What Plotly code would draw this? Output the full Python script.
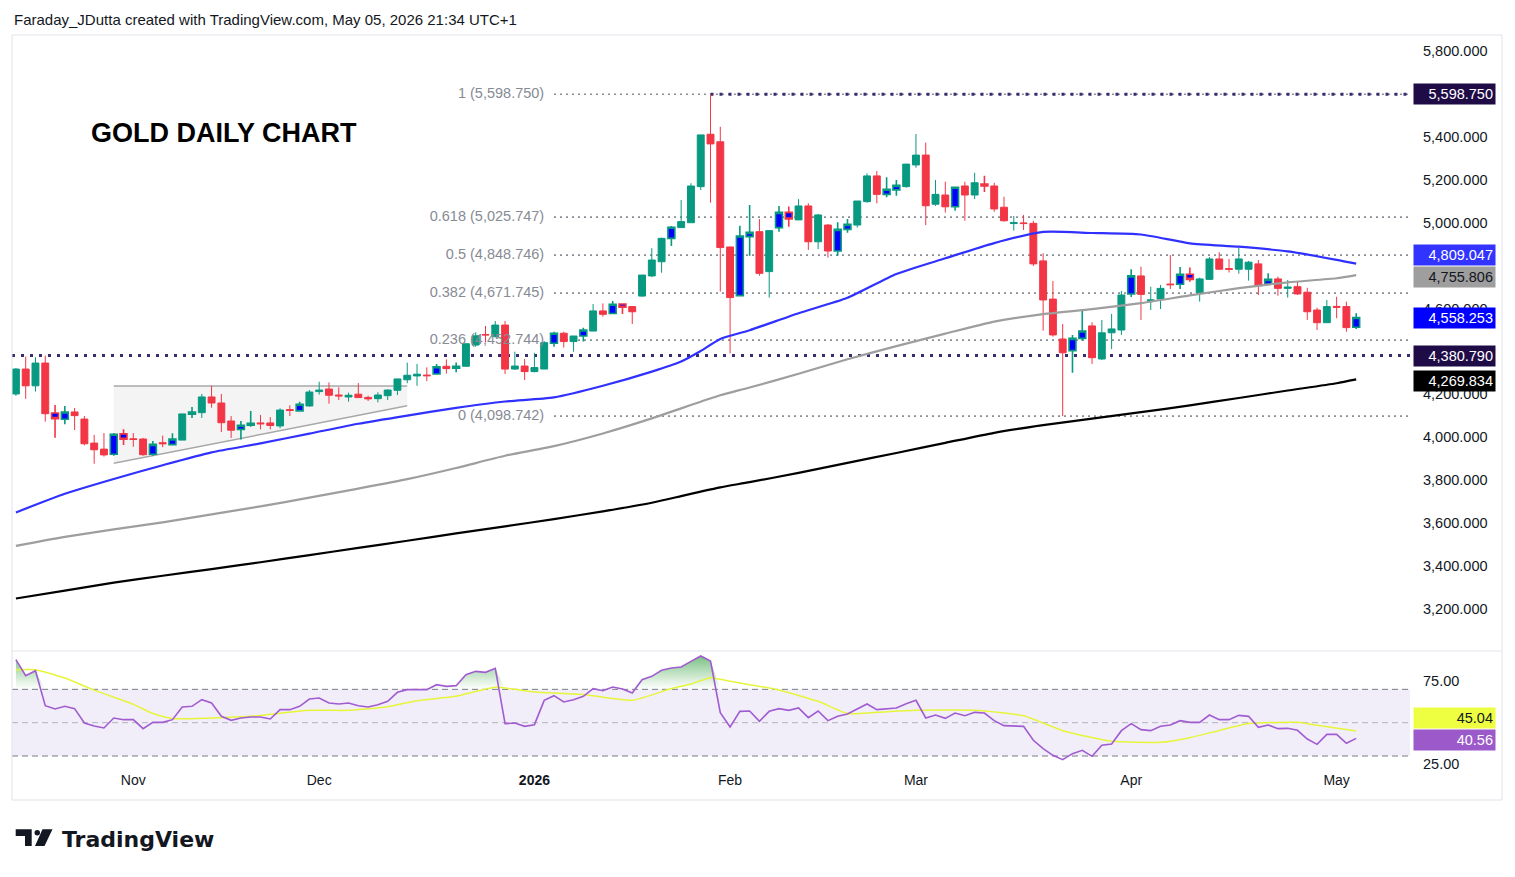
import numpy as np
import pandas as pd
import plotly.graph_objects as go

# ---- values (gold futures, daily) ----
# trading days: weekdays minus the exchange holidays in the window
holidays = ["2025-11-27", "2025-12-25", "2026-01-01", "2026-01-19", "2026-02-16", "2026-04-03"]
dates = [d for d in pd.bdate_range("2025-10-16", "2026-05-05")
         if d.strftime("%Y-%m-%d") not in holidays]

opens = [4202, 4318, 4240, 4346, 4113, 4084, 4118, 4085, 3973, 3945,
         3921, 4016, 3993, 3992, 3921, 3975, 3966, 3987, 4108, 4115,
         4188, 4160, 4076, 4037, 4056, 4067, 4067, 4053, 4129, 4123,
         4146, 4213, 4225, 4197, 4188, 4201, 4186, 4180, 4194, 4219,
         4268, 4286, 4290, 4295, 4331, 4322, 4331, 4430, 4479, 4469,
         4523, 4318, 4332, 4306, 4318, 4438, 4485, 4446, 4472, 4495,
         4589, 4577, 4621, 4609, 4658, 4752, 4818, 4927, 4977, 5000,
         5168, 5412, 5377, 4887, 4660, 4935, 4958, 4772, 4977, 5048,
         5013, 5078, 4911, 4989, 4868, 4969, 4989, 5098, 5218, 5132,
         5153, 5168, 5269, 5315, 5086, 5129, 5074, 5171, 5129, 5180,
         5171, 5072, 4996, 4999, 4997, 4822, 4644, 4458, 4404, 4461,
         4519, 4365, 4487, 4500, 4668, 4752, 4636, 4644, 4714, 4713,
         4760, 4674, 4736, 4831, 4786, 4783, 4783, 4808, 4713, 4738,
         4694, 4702, 4676, 4593, 4534, 4610, 4609, 4513]
highs = [4323, 4376, 4373, 4381, 4151, 4146, 4137, 4099, 4011, 4020,
         4020, 4037, 4020, 3997, 3983, 4008, 4019, 4109, 4141, 4202,
         4240, 4202, 4099, 4076, 4123, 4104, 4094, 4135, 4149, 4166,
         4220, 4259, 4256, 4233, 4208, 4253, 4194, 4210, 4224, 4272,
         4348, 4342, 4326, 4342, 4363, 4348, 4436, 4489, 4519, 4542,
         4542, 4399, 4365, 4394, 4449, 4492, 4492, 4472, 4511, 4621,
         4624, 4635, 4624, 4612, 4756, 4881, 4930, 4985, 5106, 5184,
         5409, 5598.75, 5447, 4887, 4986, 5082, 5017, 4966, 5078, 5075,
         5110, 5090, 5041, 4994, 5002, 5017, 5101, 5230, 5241, 5212,
         5199, 5273, 5413, 5373, 5199, 5191, 5165, 5191, 5233, 5219,
         5186, 5121, 5031, 5036, 5009, 4857, 4728, 4528, 4477, 4593,
         4536, 4547, 4575, 4682, 4783, 4795, 4702, 4710, 4849, 4794,
         4791, 4744, 4840, 4862, 4831, 4884, 4822, 4826, 4764, 4749,
         4733, 4725, 4697, 4604, 4640, 4655, 4632, 4578]
lows = [4193, 4179, 4213, 4073, 3998, 4061, 4034, 3963, 3877, 3910,
        3914, 3964, 3956, 3914, 3914, 3954, 3966, 3987, 4090, 4090,
        4138, 4025, 3997, 3990, 4049, 4037, 4037, 4042, 4099, 4120,
        4143, 4199, 4157, 4174, 4166, 4185, 4169, 4163, 4174, 4197,
        4252, 4240, 4262, 4292, 4297, 4303, 4329, 4422, 4443, 4466,
        4295, 4314, 4267, 4303, 4318, 4422, 4418, 4399, 4446, 4495,
        4562, 4577, 4575, 4528, 4655, 4746, 4767, 4891, 4977, 5000,
        5152, 5093, 4679, 4391, 4660, 4846, 4753, 4651, 4958, 4981,
        5013, 4873, 4877, 4837, 4846, 4953, 4977, 5093, 5090, 5118,
        5126, 5163, 5256, 4989, 5078, 5047, 5056, 5009, 5110, 5143,
        5051, 5005, 4963, 4966, 4798, 4497, 4469, 4098.742, 4301, 4450,
        4342, 4360, 4411, 4477, 4654, 4547, 4593, 4598, 4691, 4691,
        4725, 4632, 4733, 4783, 4768, 4762, 4730, 4663, 4710, 4660,
        4651, 4663, 4547, 4500, 4534, 4555, 4492, 4505]
closes = [4318, 4240, 4346, 4110, 4087, 4118, 4101, 3970, 3942, 3918,
          4014, 3991, 3990, 3919, 3967, 3970, 3992, 4109, 4118, 4188,
          4160, 4068, 4033, 4056, 4065, 4063, 4055, 4127, 4125, 4154,
          4211, 4220, 4196, 4193, 4196, 4185, 4179, 4197, 4220, 4272,
          4289, 4294, 4287, 4329, 4320, 4331, 4436, 4473, 4477, 4523,
          4318, 4332, 4306, 4325, 4441, 4485, 4446, 4472, 4500, 4589,
          4573, 4620, 4606, 4585, 4756, 4826, 4927, 4979, 5005, 5171,
          5409, 5367, 4884, 4651, 4938, 4955, 4764, 4963, 5048, 5017,
          5078, 4911, 5036, 4868, 4969, 4992, 5101, 5218, 5132, 5156,
          5174, 5273, 5315, 5079, 5132, 5074, 5165, 5129, 5186, 5171,
          5064, 5009, 5000, 4996, 4808, 4640, 4477, 4394, 4461, 4495,
          4371, 4487, 4505, 4663, 4752, 4666, 4640, 4694, 4711, 4760,
          4736, 4738, 4831, 4783, 4783, 4831, 4816, 4706, 4736, 4694,
          4700, 4668, 4585, 4534, 4609, 4606, 4511, 4558.253]

# bars painted blue by the chart's bar-colour condition
blue_bars = [4, 5, 10, 11, 14, 16, 18, 23, 24, 29, 43, 45, 55, 58, 61, 62, 67,
             74, 75, 78, 79, 84, 85, 89, 90, 96, 99, 108, 109, 114, 119, 120, 128, 137]

# moving averages, read every few bars
ma_bars = [0, 5, 10, 15, 20, 25, 30, 35, 40, 45, 50, 55, 60, 65, 68, 70, 72, 75,
           80, 85, 90, 95, 100, 105, 110, 115, 120, 125, 130, 135, 137]
sma50 = [3650, 3737, 3806, 3870, 3930, 3972, 4017, 4063, 4101, 4137, 4167, 4186,
         4240, 4306, 4353, 4402, 4458, 4499, 4578, 4650, 4761, 4834, 4905, 4957,
         4952, 4945, 4904, 4888, 4866, 4827, 4809.047]
sma100 = [3494, 3536, 3571, 3604, 3641, 3678, 3719, 3761, 3805, 3857, 3914, 3959,
          4018, 4088, 4135, 4166, 4196, 4232, 4296, 4364, 4425, 4483, 4539, 4574,
          4597, 4625, 4661, 4695, 4722, 4741, 4755.806]
sma200 = [3249, 3286, 3323, 3355, 3386, 3418, 3451, 3485, 3518, 3552, 3585, 3619,
          3655, 3695, 3726, 3747, 3767, 3791, 3834, 3881, 3927, 3974, 4021, 4057,
          4087, 4117, 4149, 4183, 4218, 4252, 4269.834]

rsi = [87.8, 78.2, 81.2, 60.2, 58.2, 59.8, 58.4, 49.8, 48.0, 46.8,
       52.8, 51.8, 51.8, 46.4, 50.2, 50.2, 51.8, 59.4, 59.8, 63.8,
       61.8, 53.8, 51.4, 52.8, 53.4, 53.4, 52.2, 57.8, 57.8, 59.8,
       64.2, 64.8, 61.8, 61.2, 61.8, 60.2, 59.4, 60.8, 62.8, 68.2,
       69.8, 69.6, 69.8, 72.8, 71.8, 72.2, 78.8, 80.8, 80.2, 82.6,
       49.4, 49.8, 47.8, 48.8, 63.4, 66.2, 62.4, 63.8, 65.8, 70.4,
       69.2, 71.4, 70.2, 67.8, 75.8, 77.8, 81.4, 82.8, 83.4, 86.8,
       90.0, 87.0, 56.0, 47.4, 56.8, 57.0, 50.8, 56.8, 58.4, 57.4,
       58.8, 53.0, 57.0, 51.2, 53.8, 55.2, 58.2, 61.2, 57.8, 58.4,
       58.8, 61.4, 63.4, 52.8, 54.6, 52.6, 55.8, 54.2, 56.2, 55.8,
       51.2, 48.2, 47.9, 47.8, 39.4, 34.4, 30.4, 27.8, 31.4, 33.4,
       29.8, 36.4, 37.2, 45.2, 49.4, 45.8, 45.2, 47.8, 48.6, 51.2,
       50.2, 50.2, 54.6, 51.8, 51.8, 54.4, 53.8, 47.2, 48.6, 46.4,
       46.6, 45.4, 40.2, 37.0, 43.0, 43.0, 37.6, 40.56]
rsi_ma_bars = [0, 2, 5, 8, 12, 14, 16, 20, 24, 30, 34, 38, 41, 45, 49, 53, 58, 63, 67, 69,
               71, 73, 75, 78, 82, 85, 88, 92, 98, 103, 107, 112, 117, 120, 123, 126, 131, 133, 137]
rsi_ma = [81.8, 81.8, 76.8, 69.5, 61.0, 55.5, 52.4, 52.8, 53.8, 57.4, 57.4, 59.6, 63.2,
          65.8, 71.2, 68.4, 66.9, 63.4, 70.5, 73.2, 77.0, 74.8, 72.8, 69.6, 62.8, 55.5,
          56.2, 57.4, 57.4, 54.2, 45.2, 38.8, 38.2, 41.0, 45.3, 49.5, 50.2, 48.4, 45.04]

# drawings on the chart
fib_high, fib_low = 5598.75, 4098.742
fib_levels = [0, 0.236, 0.382, 0.5, 0.618, 1]
fib_start = 55          # bar where the retracement tool is anchored
high_bar = 71           # bar of the 5,598.75 top
support = 4380.79
wedge_bars = [10, 40]
wedge_top = 4239
wedge_bottom = [3879, 4147]

UP, DOWN, BLUE = "#089981", "#f23645", "#0000ff"
TXT = "#131722"
FONT = "Liberation Sans"

# ---- page geometry, in screenshot pixels (page body adds an 8px margin) ----
PAGE = 8
W, H = 1515 - PAGE, 877 - PAGE
ML, MR, MT, MB = 12 - PAGE, 105, 35 - PAGE, 107
PW, PH = W - ML - MR, H - MT - MB


def fx(px):
    return (px - 12) / PW


def fy(py):
    return (770 - py) / PH


bars = list(range(len(dates)))
x_range = [-0.4, 142.5]

fig = go.Figure()

# fib labels sit under the candles, like on the original
fib_prices = [fib_low + lv * (fib_high - fib_low) for lv in fib_levels]
fig.add_trace(go.Scatter(
    x=[fib_start - 1] * len(fib_levels), y=fib_prices, mode="text",
    text=[f"{lv:g} ({p:,.3f})" for lv, p in zip(fib_levels, fib_prices)],
    textposition="middle left", textfont=dict(family=FONT, size=14.5, color="#878b94"),
    hoverinfo="skip", showlegend=False))

for vals, col in [(sma200, "#000000"), (sma100, "#9e9e9e"), (sma50, "#3030ff")]:
    fig.add_trace(go.Scatter(x=ma_bars, y=vals, mode="lines",
                             line=dict(color=col, width=2.2, shape="spline", smoothing=0.6),
                             hoverinfo="skip", showlegend=False))

# candles: normal ones, then the blue highlighted ones
df = pd.DataFrame(dict(o=opens, h=highs, l=lows, c=closes))
is_blue = df.index.isin(blue_bars)
for mask, fill_up, fill_dn, lw in [(~is_blue, UP, DOWN, 1), (is_blue, BLUE, BLUE, 1.6)]:
    sub = df[mask]
    fig.add_trace(go.Candlestick(
        x=sub.index, open=sub.o, high=sub.h, low=sub.l, close=sub.c,
        increasing=dict(fillcolor=fill_up, line=dict(color=UP, width=lw)),
        decreasing=dict(fillcolor=fill_dn, line=dict(color=DOWN, width=lw)),
        whiskerwidth=0, hoverinfo="skip", showlegend=False))

# ---- RSI pane ----
fig.add_trace(go.Scatter(x=bars, y=[70] * len(bars), mode="lines", line=dict(width=0),
                         xaxis="x2", yaxis="y2", hoverinfo="skip", showlegend=False))
fig.add_trace(go.Scatter(
    x=bars, y=np.maximum(rsi, 70), mode="lines", line=dict(width=0), fill="tonexty",
    fillgradient=dict(type="vertical", start=70, stop=92,
                      colorscale=[[0, "rgba(76,175,80,0)"], [1, "rgba(56,160,70,0.75)"]]),
    xaxis="x2", yaxis="y2", hoverinfo="skip", showlegend=False))
fig.add_trace(go.Scatter(x=rsi_ma_bars, y=rsi_ma, mode="lines",
                         line=dict(color="#e6f53a", width=1.5, shape="spline", smoothing=0.5),
                         xaxis="x2", yaxis="y2", hoverinfo="skip", showlegend=False))
fig.add_trace(go.Scatter(x=bars, y=rsi, mode="lines", line=dict(color="#a05cd0", width=1.6),
                         xaxis="x2", yaxis="y2", hoverinfo="skip", showlegend=False))

shapes = []
# frame and pane separator
shapes.append(dict(type="rect", xref="paper", yref="paper", x0=0, x1=fx(1502), y0=fy(800), y1=1,
                   line=dict(color="#e0e3eb", width=1)))
shapes.append(dict(type="line", xref="paper", yref="paper", x0=0, x1=fx(1502), y0=fy(651), y1=fy(651),
                   line=dict(color="#e0e3eb", width=1)))
# RSI band and levels
shapes.append(dict(type="rect", xref="paper", yref="y2", x0=0, x1=1, y0=30, y1=70, layer="below",
                   fillcolor="rgba(126,87,194,0.1)", line=dict(width=0)))
for lv, col in [(70, "#787b86"), (50, "rgba(120,123,134,0.5)"), (30, "#787b86")]:
    shapes.append(dict(type="line", xref="paper", yref="y2", x0=0, x1=1, y0=lv, y1=lv, layer="below",
                       line=dict(color=col, width=1, dash="6px,4px")))
# fib lines
for p in fib_prices:
    shapes.append(dict(type="line", xref="x", yref="y", x0=fib_start, x1=x_range[1], y0=p, y1=p,
                       layer="below", line=dict(color="#8a8d96", width=1.6, dash="2px,4px")))
# horizontal levels
shapes.append(dict(type="line", xref="paper", yref="y", x0=0, x1=1, y0=support, y1=support,
                   layer="below", line=dict(color="#3b2a6e", width=3, dash="3px,6px")))
shapes.append(dict(type="line", xref="x", yref="y", x0=high_bar, x1=x_range[1], y0=fib_high, y1=fib_high,
                   layer="below", line=dict(color="#3b2a6e", width=3, dash="3px,6px")))
# wedge drawing
x0w, x1w = wedge_bars
shapes.append(dict(type="path", xref="x", yref="y", layer="below",
                   path=f"M {x0w},{wedge_top} L {x1w},{wedge_top} L {x1w},{wedge_bottom[1]} "
                        f"L {x0w},{wedge_bottom[0]} Z",
                   fillcolor="rgba(0,0,0,0.045)", line=dict(width=0)))
shapes.append(dict(type="line", xref="x", yref="y", x0=x0w, x1=x1w, y0=wedge_top, y1=wedge_top,
                   layer="below", line=dict(color="#a8a8a8", width=1.5)))
shapes.append(dict(type="line", xref="x", yref="y", x0=x0w, x1=x1w, y0=wedge_bottom[0], y1=wedge_bottom[1],
                   layer="below", line=dict(color="#a8a8a8", width=1.5)))
# TradingView logo mark
shapes.append(dict(type="path", xref="paper", yref="paper", fillcolor=TXT, line=dict(width=0),
                   path=f"M {fx(15.7)},{fy(829.3)} L {fx(31.7)},{fy(829.3)} L {fx(31.7)},{fy(846)} "
                        f"L {fx(25)},{fy(846)} L {fx(25)},{fy(836)} L {fx(15.7)},{fy(836)} Z"))
shapes.append(dict(type="circle", xref="paper", yref="paper", fillcolor=TXT, line=dict(width=0),
                   x0=fx(34.5), x1=fx(40), y0=fy(835.5), y1=fy(830)))
shapes.append(dict(type="path", xref="paper", yref="paper", fillcolor=TXT, line=dict(width=0),
                   path=f"M {fx(42.5)},{fy(829.3)} L {fx(52.5)},{fy(829.3)} L {fx(44.5)},{fy(846)} "
                        f"L {fx(35)},{fy(846)} Z"))

annotations = [
    dict(xref="paper", yref="paper", x=0, y=fy(19), xanchor="left", yanchor="middle", showarrow=False,
         text="Faraday_JDutta created with TradingView.com, May 05, 2026 21:34 UTC+1",
         font=dict(family=FONT, size=15, color=TXT)),
    dict(xref="paper", yref="paper", x=fx(89), y=fy(133), xanchor="left", yanchor="middle", showarrow=False,
         text="<b>GOLD DAILY CHART</b>", font=dict(family=FONT, size=27, color="#000000")),
    dict(xref="paper", yref="paper", x=fx(60), y=fy(839), xanchor="left", yanchor="middle", showarrow=False,
         text="<b>TradingView</b>", font=dict(family="DejaVu Sans", size=22, color=TXT)),
]

# price scale badges
badges = [
    (fib_high, "y", "#1f0c47", "#ffffff", 0),
    (sma50[-1], "y", "#3333ff", "#ffffff", 9),
    (sma100[-1], "y", "#9e9e9e", TXT, -2),
    (closes[-1], "y", BLUE, "#ffffff", 0),
    (support, "y", "#1f0c47", "#ffffff", 0),
    (sma200[-1], "y", "#000000", "#ffffff", -2),
    (rsi_ma[-1], "y2", "#eeff41", TXT, 13),
    (rsi[-1], "y2", "#9c59c9", "#ffffff", -2),
]
for val, yref, bg, fg, shift in badges:
    txt = f"{val:,.3f}" if yref == "y" else f"{val:.2f}"
    annotations.append(dict(xref="paper", yref=yref, x=fx(1413), y=val, xanchor="left", yanchor="middle",
                            yshift=shift, showarrow=False, text=txt, bgcolor=bg, width=77, align="right",
                            borderpad=2, font=dict(family=FONT, size=14.5, color=fg)))

month_bars = [i for i in range(1, len(dates)) if dates[i].month != dates[i - 1].month]
month_text = ["<b>2026</b>" if dates[i].month == 1 else dates[i].strftime("%b") for i in month_bars]

# scale labels that sit fully behind a badge on the original are not drawn
price_ticks = [v for v in range(3200, 5801, 200) if v not in (4400, 4800, 5600)]

fig.update_layout(
    width=W, height=H, autosize=False,
    margin=dict(l=ML, r=MR, t=MT, b=MB),
    paper_bgcolor="white", plot_bgcolor="white",
    hovermode=False, showlegend=False,
    boxgap=0.16, boxgroupgap=0.16,
    shapes=shapes, annotations=annotations,
    xaxis=dict(domain=[0, 1], range=x_range, anchor="y", showticklabels=False, showgrid=False,
               zeroline=False, showline=False, rangeslider=dict(visible=False)),
    yaxis=dict(domain=[fy(650), 1], range=[3009, 5874.5], side="right", anchor="x",
               tickvals=price_ticks, tickformat=",.3f", showgrid=False,
               zeroline=False, ticks="", ticklabelstandoff=12,
               tickfont=dict(family=FONT, size=14.5, color=TXT)),
    xaxis2=dict(domain=[0, 1], range=x_range, anchor="y2", tickvals=month_bars, ticktext=month_text,
                showgrid=False, zeroline=False, showline=False, ticks="",
                tickfont=dict(family=FONT, size=14, color=TXT)),
    yaxis2=dict(domain=[0, fy(652)], range=[21.6, 92.4], side="right", anchor="x2",
                tickvals=[25, 75], tickformat=".2f", showgrid=False, zeroline=False, ticks="",
                ticklabelstandoff=12, tickfont=dict(family=FONT, size=14.5, color=TXT)),
)

fig.write_html("out.html")
